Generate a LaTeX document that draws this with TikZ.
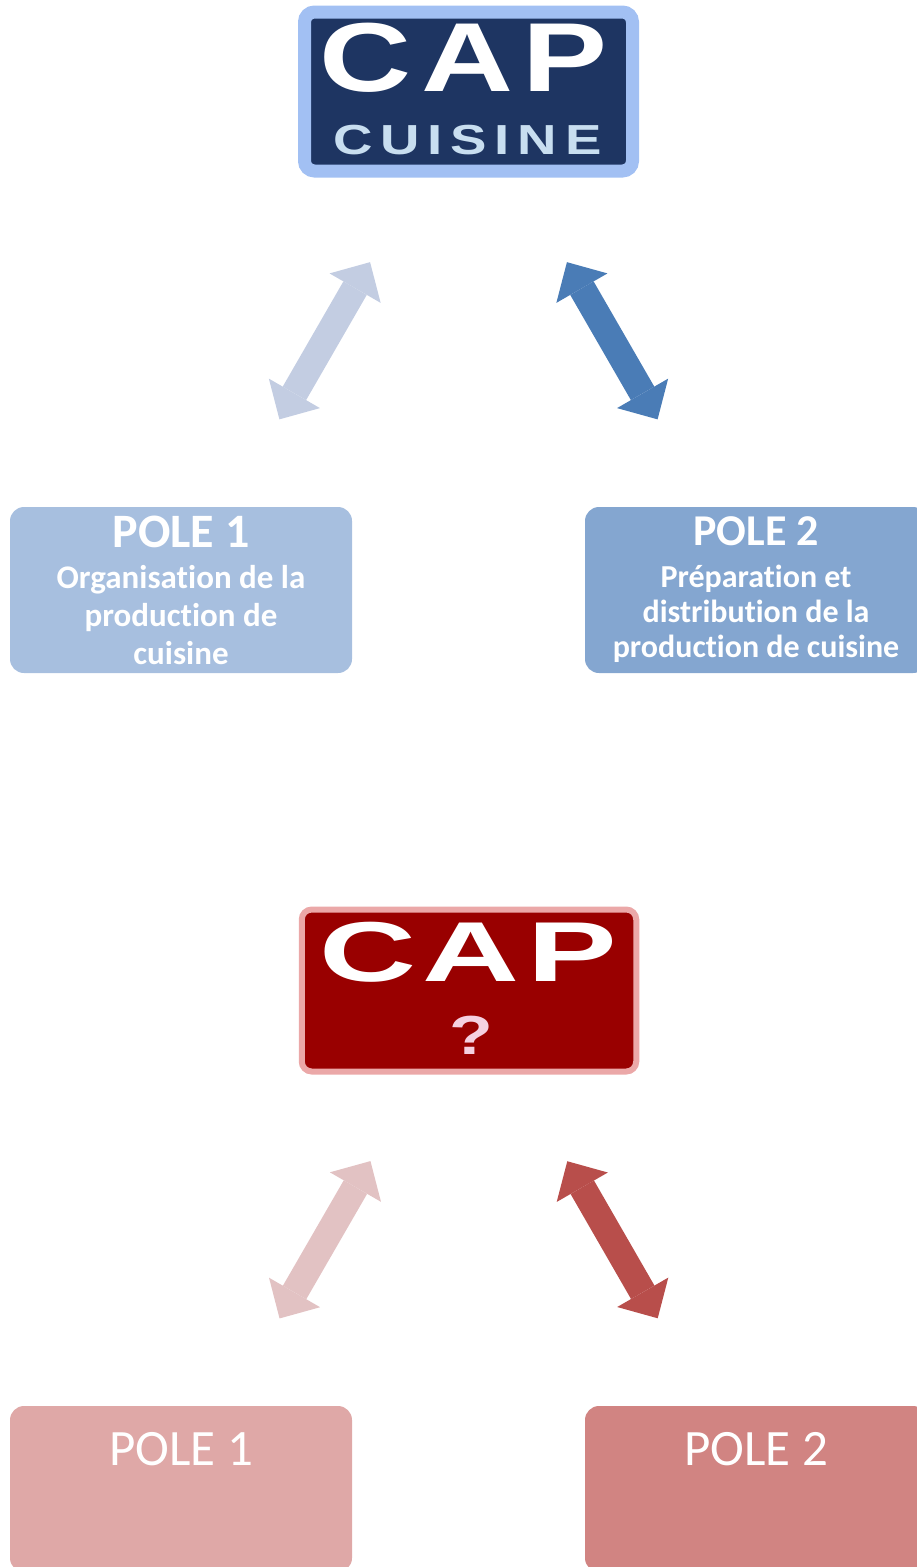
\documentclass[tikz,border=0pt]{standalone}
\usepackage{fontspec}
\setmainfont[Ligatures=NoCommon]{Carlito}
\newfontfamily\logofont{Liberation Sans}
\usetikzlibrary{arrows.meta}

\definecolor{capnavy}{HTML}{1E3562}
\definecolor{capedge}{HTML}{A2C0F3}
\definecolor{cuisinetxt}{HTML}{C8DEF0}
\definecolor{arrowpale}{HTML}{C3CDE2}
\definecolor{arrowblue}{HTML}{4A7CB6}
\definecolor{poleone}{HTML}{A7BFDF}
\definecolor{poletwo}{HTML}{84A6D0}
\definecolor{capred}{HTML}{990000}
\definecolor{capredge}{HTML}{EBA8A8}
\definecolor{quest}{HTML}{F5D0E0}
\definecolor{arrowpink}{HTML}{E2C2C3}
\definecolor{arrowred}{HTML}{B84E4B}
\definecolor{poleonered}{HTML}{DFA8A7}
\definecolor{poletwored}{HTML}{D18482}

\begin{document}
\begin{tikzpicture}[x=1pt,y=-1pt,
  logo/.style={minimum width=328pt,minimum height=159pt,rounded corners=10pt,inner sep=0pt},
  pole/.style={minimum width=342pt,minimum height=166pt,rounded corners=14pt,inner sep=0pt,text=white,align=center},
  link/.style={line width=27pt,>={Triangle[length=30pt,width=59pt,line width=0pt]},<->,shorten <=197pt,shorten >=197pt}]

\useasboundingbox (0,0) rectangle (917,1567);

\node[logo,fill=capnavy,draw=capedge,line width=13pt] (cap) at (468.5,91.5) {};
\node[text=white,inner sep=0pt,font=\logofont\bfseries\fontsize{98}{98}\selectfont] (captitle) at (463.5,58) {\scalebox{1.3}[1]{C\kern8pt A\kern7pt P}};
\node[text=cuisinetxt,inner sep=0pt,font=\logofont\bfseries\fontsize{42}{42}\selectfont] (capsub) at (467.5,140) {\scalebox{1.3}[1]{C\kern6pt U\kern6pt I\kern6pt S\kern6pt I\kern6pt N\kern6pt E}};

\node[pole,fill=poleone,font=\bfseries\fontsize{33}{38}\selectfont] (p1) at (181,590) {{\fontsize{48}{48}\selectfont POLE 1}\\[3pt]Organisation de la\\production de\\cuisine};
\node[pole,fill=poletwo,font=\bfseries\fontsize{32}{35}\selectfont] (p2) at (756,590) {{\fontsize{44}{44}\selectfont POLE 2}\\[7pt]Préparation et\\distribution de la\\production de cuisine};

\draw[link,arrowpale] (cap.center) -- (p1.center);
\draw[link,arrowblue] (cap.center) -- (p2.center);

\node[logo,fill=capred,draw=capredge,line width=6pt,minimum width=334.5pt,minimum height=162pt] (cap2) at (469,990.5) {};
\node[text=white,inner sep=0pt,font=\logofont\bfseries\fontsize{85}{85}\selectfont] (cap2title) at (468.5,952.5) {\scalebox{1.58}[1]{C\kern4pt A\kern5pt P}};
\node[text=quest,inner sep=0pt,font=\logofont\bfseries\fontsize{55}{55}\selectfont] (cap2sub) at (471,1035) {\scalebox{1.3}[1]{?}};

\node[pole,fill=poleonered] (b1) at (181,1489) {};
\node[pole,fill=poletwored] (b2) at (756,1489) {};
\node[text=white,inner sep=0pt,font=\fontsize{51}{51}\selectfont] (b1txt) at (181,1449) {POLE 1};
\node[text=white,inner sep=0pt,font=\fontsize{51}{51}\selectfont] (b2txt) at (756,1449) {POLE 2};

\draw[link,arrowpink] (cap2.center) -- (b1.center);
\draw[link,arrowred] (cap2.center) -- (b2.center);
\end{tikzpicture}
\end{document}
